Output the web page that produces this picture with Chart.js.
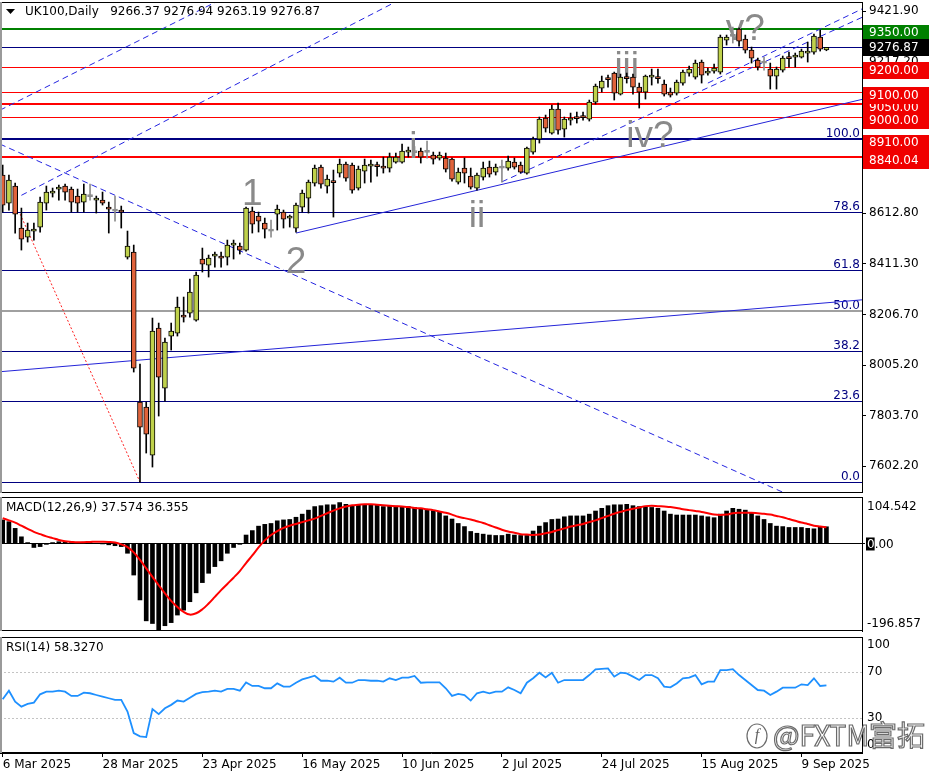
<!DOCTYPE html>
<html>
<head>
<meta charset="utf-8">
<title>UK100 Daily</title>
<script src="https://cdn.jsdelivr.net/npm/chart.js@4.4.1/dist/chart.umd.min.js"></script>
<style>
  html, body { margin: 0; padding: 0; background: #fff; }
  #wrap { position: relative; width: 936px; height: 780px; overflow: hidden; background: #fff; }
  canvas { position: absolute; left: 0; }
</style>
</head>
<body>
<div id="wrap">
  <canvas id="main" width="936" height="491" style="top:2px"></canvas>
  <canvas id="macd" width="936" height="138" style="top:495px"></canvas>
  <canvas id="rsi" width="936" height="146" style="top:634px"></canvas>
</div>
<script>
// daily candles, 6 Mar 2025 .. 15 Sep 2025
const open = [
  8766, 8654, 8722, 8554, 8518, 8542, 8558, 8654, 8694, 8710,
  8722, 8710, 8682, 8658, 8680, 8666, 8666, 8638, 8622, 8626,
  8438, 8458, 7858, 7838, 7646, 8154, 7914, 8122, 8134, 8206,
  8214, 8186, 8430, 8406, 8442, 8442, 8438, 8486, 8482, 8466,
  8622, 8602, 8574, 8542, 8610, 8618, 8594, 8554, 8638, 8674,
  8734, 8798, 8722, 8738, 8774, 8810, 8806, 8714, 8782, 8802,
  8802, 8802, 8794, 8818, 8818, 8858, 8856, 8862, 8857, 8846,
  8834, 8834, 8830, 8738, 8794, 8762, 8714, 8758, 8798, 8778,
  8794, 8794, 8818, 8806, 8774, 8858, 8910, 8994, 8934, 9030,
  8950, 8986, 8994, 8998, 8990, 9058, 9114, 9150, 9174, 9090,
  9154, 9158, 9118, 9098, 9158, 9154, 9130, 9098, 9094, 9134,
  9174, 9158, 9218, 9174, 9182, 9178, 9306, 9321, 9350, 9310,
  9266, 9226, 9214, 9190, 9162, 9186, 9234, 9238, 9238, 9254,
  9258, 9318, 9266.37
];
const high = [
  8806, 8766, 8734, 8634, 8574, 8574, 8678, 8722, 8714, 8726,
  8730, 8718, 8710, 8730, 8730, 8682, 8698, 8658, 8682, 8642,
  8542, 8486, 8010, 7858, 8194, 8174, 8114, 8174, 8278, 8278,
  8350, 8378, 8474, 8446, 8458, 8458, 8506, 8506, 8494, 8638,
  8638, 8618, 8594, 8586, 8646, 8626, 8606, 8654, 8706, 8746,
  8806, 8806, 8766, 8786, 8830, 8818, 8814, 8802, 8830, 8826,
  8818, 8838, 8854, 8854, 8890, 8878, 8880, 8874, 8902, 8858,
  8858, 8854, 8834, 8794, 8834, 8794, 8774, 8818, 8822, 8810,
  8826, 8842, 8834, 8818, 8878, 8918, 8998, 9006, 9046, 9054,
  8998, 9014, 9018, 9018, 9066, 9130, 9162, 9166, 9178, 9170,
  9174, 9170, 9134, 9166, 9190, 9190, 9146, 9114, 9146, 9186,
  9202, 9226, 9226, 9194, 9210, 9326, 9326, 9358, 9354, 9326,
  9278, 9234, 9238, 9214, 9198, 9242, 9258, 9254, 9270, 9298,
  9330, 9346, 9276.94
];
const low = [
  8618, 8626, 8534, 8466, 8498, 8506, 8538, 8626, 8678, 8666,
  8666, 8618, 8618, 8618, 8666, 8614, 8646, 8534, 8582, 8554,
  8430, 7978, 7538, 7654, 7598, 7802, 7862, 8066, 8122, 8178,
  8198, 8182, 8378, 8358, 8398, 8398, 8406, 8430, 8450, 8462,
  8534, 8538, 8514, 8518, 8546, 8554, 8558, 8538, 8618, 8614,
  8722, 8714, 8694, 8598, 8758, 8742, 8694, 8706, 8734, 8738,
  8762, 8774, 8778, 8814, 8814, 8838, 8838, 8814, 8834, 8810,
  8826, 8778, 8742, 8730, 8734, 8710, 8706, 8746, 8758, 8766,
  8738, 8786, 8790, 8774, 8770, 8850, 8894, 8938, 8930, 8930,
  8918, 8966, 8974, 8986, 8982, 9050, 9098, 9118, 9066, 9086,
  9134, 9090, 9034, 9070, 9126, 9134, 9082, 9078, 9086, 9126,
  9162, 9150, 9134, 9166, 9174, 9170, 9286, 9294, 9282, 9254,
  9214, 9186, 9186, 9110, 9110, 9178, 9198, 9198, 9234, 9218,
  9250, 9262, 9263.19
];
const close = [
  8646, 8746, 8610, 8510, 8546, 8550, 8658, 8698, 8698, 8714,
  8698, 8658, 8654, 8690, 8680, 8668, 8654, 8630, 8622, 8618,
  8482, 7994, 7758, 7730, 8142, 7958, 8098, 8142, 8238, 8198,
  8298, 8366, 8410, 8434, 8450, 8434, 8486, 8488, 8466, 8634,
  8570, 8582, 8550, 8542, 8630, 8590, 8596, 8646, 8694, 8738,
  8794, 8730, 8750, 8736, 8810, 8754, 8706, 8790, 8806, 8804,
  8800, 8794, 8838, 8838, 8862, 8860, 8856, 8838, 8857, 8830,
  8846, 8790, 8750, 8778, 8774, 8718, 8766, 8794, 8770, 8798,
  8794, 8822, 8798, 8778, 8874, 8910, 8990, 8954, 9030, 8946,
  8990, 8994, 8992, 8996, 9058, 9122, 9142, 9148, 9094, 9158,
  9152, 9118, 9098, 9162, 9160, 9152, 9090, 9086, 9138, 9178,
  9190, 9214, 9166, 9182, 9194, 9318, 9318, 9321, 9302, 9266,
  9234, 9198, 9214, 9162, 9190, 9234, 9232, 9242, 9262, 9258,
  9322, 9270, 9276.87
];

// MACD(12,26,9): histogram (main) and signal
const macdMain = [
  53, 49, 34, 15, 2, -9, -7, -2, 2, 4,
  4, 2, 1, 3, 2, 0, -1, -3, -5, -7,
  -22, -71, -127, -174, -180, -195, -185, -178, -161, -150,
  -131, -111, -88, -67, -52, -39, -22, -9, -2, 19,
  29, 39, 43, 45, 51, 53, 54, 59, 66, 75,
  83, 85, 87, 87, 92, 88, 85, 87, 88, 87,
  87, 83, 84, 84, 83, 83, 81, 79, 77, 74,
  70, 62, 55, 45, 38, 27, 23, 21, 19, 18,
  18, 21, 19, 18, 18, 28, 39, 47, 54, 55,
  60, 62, 62, 62, 66, 73, 79, 85, 87, 87,
  88, 85, 83, 83, 81, 79, 73, 66, 64, 64,
  64, 64, 62, 60, 58, 66, 73, 79, 77, 75,
  70, 62, 54, 45, 39, 38, 36, 36, 36, 34,
  33, 38, 37.574
];
const macdSignal = [
  57, 52, 47, 40, 33, 26, 21, 16, 12, 8,
  5, 3.5, 2.5, 3, 3.5, 4, 4, 3.5, 2, -2,
  -8, -20, -37, -56, -75, -94, -112, -129, -143, -154,
  -160, -157, -148, -135, -120, -105, -91, -77, -62, -44,
  -27, -9, 7, 19, 28, 35, 40, 44, 48, 52,
  56, 62, 68, 74, 79, 83, 86, 87, 88, 88,
  87, 86, 85, 84, 83, 82, 80, 79, 77, 75,
  72, 69, 65, 60, 57, 54, 50, 46, 41, 36,
  31, 27, 24, 21, 20, 19, 20, 23, 26, 30,
  34, 38, 41, 44, 48, 52, 57, 62, 67, 71,
  75, 78, 81, 84, 85, 84, 83, 82, 80, 77,
  75, 73, 71, 68, 65, 64, 65, 68, 69, 69,
  69, 68, 67, 65, 62, 59, 55, 51, 47, 44,
  40, 38, 36.355
];

// RSI(14)
const rsi = [
  46.3, 53.7, 44.3, 40, 42.3, 43.4, 50.6, 52.9, 52.9, 53.7,
  52.9, 49.2, 49.2, 52, 51.5, 50, 48.6, 47.2, 45.8, 45.8,
  35.7, 17.2, 14.3, 13.7, 37.8, 33.5, 38.6, 41.5, 45.2, 44.3,
  47.7, 50.9, 52.4, 52.9, 53.7, 52.9, 55.2, 55.2, 53.7, 60.9,
  57.8, 57.8, 55.8, 55.8, 60, 57.2, 57.2, 60.6, 63.5, 64.9,
  66.6, 62.3, 62.3, 61.5, 64.9, 60.6, 60.6, 62.9, 62.9, 62.3,
  62.3, 61.5, 64.4, 62.9, 64.9, 64.9, 66.4, 60.6, 60.9, 60.9,
  60.9, 55.8, 49.2, 50.9, 50, 45.2, 51.5, 52.9, 51.5, 52.9,
  52.9, 56.6, 54.3, 51.5, 60.6, 64.4, 69.2, 65.2, 69.2, 60.6,
  62.9, 62.9, 62.9, 62.9, 67.2, 72.1, 72.6, 72.9, 65.8, 69.2,
  68.6, 65.8, 62.9, 67.2, 67.2, 64.4, 57.2, 56.6, 60, 64.4,
  65, 67.2, 59.2, 61.5, 61.5, 71.5, 71.5, 72.3, 67.2, 62.9,
  58.6, 54.3, 53.7, 50, 52.9, 56.3, 56.3, 56.3, 59.2, 58.6,
  64.4, 57.8, 58.327
];

const holidays = ['2025-04-18', '2025-04-21', '2025-05-05', '2025-05-26', '2025-08-25'];
const tickLabels = ['6 Mar 2025', '28 Mar 2025', '23 Apr 2025', '16 May 2025', '10 Jun 2025',
  '2 Jul 2025', '24 Jul 2025', '15 Aug 2025', '9 Sep 2025'];
const priceTicks = [9421.90, 9217.20, 8612.80, 8411.30, 8206.70, 8005.20, 7803.70, 7602.20];

// drawn objects
const levels = [9350, 9276.87, 9200, 9100, 9050, 9000, 8910, 8840.04];
const fibLevels = [100, 78.6, 61.8, 50, 38.2, 23.6, 0];
const fibRange = [7538, 8910];
// [bar1, price1, bar2, price2]
const trendLines = [
  [22, 8026, 132, 8255],
  [47, 8534, 132, 9035],
  [0, 9031, 10, 9156],
  [3, 8685, 13, 8814],
  [0, 8885, 10, 8774],
  [80, 8739, 90, 8853],
  [113, 9134, 123, 9254],
  [2.8, 8610, 22, 7538]
];
const waveText = ['1', '2', 'i', 'ii', 'iii', 'iv?', 'v?'];
const waveBar = [40, 47, 65.8, 76, 100, 103.7, 119];
const wavePrice = [8646, 8374, 8834, 8558, 9154, 8878, 9306];

// ---- looks ----
const FONT = '"DejaVu Sans", sans-serif';
const look = {
  up: '#bfd14b', down: '#e0633b', doji: '#8c8c8c',
  levelColor: ['#008000', '#000080', '#ff0000', '#ff0000', '#ff0000', '#ff0000', '#000080', '#ff0000'],
  levelWidth: [2, 1, 1, 1, 2, 1, 2, 2],
  tagColor: ['#008000', '#000000', '#f00000', '#f00000', '#f00000', '#f00000', '#f00000', '#f00000'],
  tagOrder: [4, 0, 1, 2, 3, 5, 6, 7],
  trendDash: [[], [], [6, 4], [6, 4], [6, 4], [6, 4], [6, 4], [2, 2]],
  trendColor: ['#2424d8', '#2424d8', '#2424e0', '#2424e0', '#2424e0', '#2424e0', '#2424e0', '#ff2020'],
  trendReach: ['both', 'right', 'both', 'right', 'both', 'right', 'right', 'none']
};
const xRange = [-0.43, 137.7];

// trading days
const months = ['Jan', 'Feb', 'Mar', 'Apr', 'May', 'Jun', 'Jul', 'Aug', 'Sep', 'Oct', 'Nov', 'Dec'];
const dates = [];
const day = new Date(Date.UTC(2025, 2, 6));
while (dates.length < close.length) {
  const iso = day.toISOString().slice(0, 10);
  const wd = day.getUTCDay();
  if (wd !== 0 && wd !== 6 && !holidays.includes(iso)) {
    dates.push(day.getUTCDate() + ' ' + months[day.getUTCMonth()] + ' ' + day.getUTCFullYear());
  }
  day.setUTCDate(day.getUTCDate() + 1);
}
const tickIdx = tickLabels.map(t => dates.indexOf(t));

function candleColor(i) {
  if (open[i] === close[i]) return look.doji;
  return close[i] > open[i] ? look.up : look.down;
}

function hline(ctx, x1, x2, y, color, width, dash) {
  ctx.save();
  ctx.strokeStyle = color;
  ctx.lineWidth = width;
  ctx.setLineDash(dash || []);
  ctx.beginPath();
  const yy = width % 2 ? Math.round(y) + 0.5 : Math.round(y);
  ctx.moveTo(x1, yy);
  ctx.lineTo(x2, yy);
  ctx.stroke();
  ctx.restore();
}

const frame = {
  id: 'frame',
  afterDraw(chart) {
    const { ctx, chartArea: a } = chart;
    ctx.save();
    hline(ctx, a.left, a.right, a.top, '#000', 1);
    hline(ctx, a.left, a.right, a.bottom - 1, '#000', 1);
    ctx.strokeStyle = '#9a9a9a';
    ctx.lineWidth = 2;
    ctx.beginPath();
    ctx.moveTo(a.left + 1, a.top);
    ctx.lineTo(a.left + 1, a.bottom);
    ctx.stroke();
    ctx.restore();
  }
};

const overlay = {
  id: 'overlay',
  beforeDatasetsDraw(chart) {
    const { ctx, chartArea: a, scales: { x, y } } = chart;
    ctx.save();
    ctx.beginPath();
    ctx.rect(a.left, a.top, a.right - a.left, a.bottom - a.top);
    ctx.clip();

    // fibonacci levels
    ctx.font = '12px ' + FONT;
    ctx.textAlign = 'right';
    ctx.textBaseline = 'alphabetic';
    fibLevels.forEach(lv => {
      const v = fibRange[0] + (fibRange[1] - fibRange[0]) * lv / 100;
      const py = y.getPixelForValue(v);
      if (lv === 50) hline(ctx, a.left, a.right, py, '#a0a0a0', 2);
      else hline(ctx, a.left, a.right, py, '#000080', 1);
      ctx.fillStyle = '#000080';
      ctx.fillText(lv.toFixed(1), a.right - 2, py - 2);
    });

    // horizontal levels
    levels.forEach((v, k) => {
      hline(ctx, a.left, a.right, y.getPixelForValue(v), look.levelColor[k], look.levelWidth[k]);
    });

    // trend lines
    trendLines.forEach((t, k) => {
      const x1 = x.getPixelForValue(t[0]), y1 = y.getPixelForValue(t[1]);
      const x2 = x.getPixelForValue(t[2]), y2 = y.getPixelForValue(t[3]);
      const m = (y2 - y1) / (x2 - x1);
      const reach = look.trendReach[k];
      const xs = reach === 'both' ? a.left : x1;
      const xe = reach === 'none' ? x2 : a.right;
      ctx.save();
      ctx.strokeStyle = look.trendColor[k];
      ctx.lineWidth = 1;
      ctx.setLineDash(look.trendDash[k]);
      ctx.beginPath();
      ctx.moveTo(xs, y1 + (xs - x1) * m);
      ctx.lineTo(xe, y1 + (xe - x1) * m);
      ctx.stroke();
      ctx.restore();
    });

    // wave counts
    ctx.font = '37px "Liberation Sans", Arial, sans-serif';
    ctx.textAlign = 'center';
    ctx.textBaseline = 'alphabetic';
    ctx.fillStyle = '#8a8a8a';
    waveText.forEach((s, k) => {
      ctx.fillText(s, x.getPixelForValue(waveBar[k]), y.getPixelForValue(wavePrice[k]));
    });
    ctx.restore();
  },
  afterDraw(chart) {
    const { ctx, chartArea: a, scales: { y } } = chart;
    ctx.save();
    // price tags on the axis
    ctx.font = '12px ' + FONT;
    ctx.textBaseline = 'middle';
    ctx.textAlign = 'left';
    look.tagOrder.forEach(k => {
      const cy = y.getPixelForValue(levels[k]) + (k === 1 ? 0 : 3.5);
      ctx.fillStyle = look.tagColor[k];
      ctx.fillRect(a.right + 1, Math.round(cy - 8), 66, 17);
      ctx.fillStyle = '#fff';
      ctx.fillText(levels[k].toFixed(2), a.right + 7, cy + 0.5);
    });
    // title
    ctx.fillStyle = '#000';
    ctx.beginPath();
    ctx.moveTo(6, 7); ctx.lineTo(15, 7); ctx.lineTo(10.5, 12); ctx.closePath();
    ctx.fill();
    ctx.font = '12px ' + FONT;
    ctx.fillText('UK100,Daily   ' + [open, high, low, close].map(s => s[s.length - 1].toFixed(2)).join(' '), 25, 10);
    ctx.restore();
  }
};

const macdDeco = {
  id: 'macdDeco',
  beforeDatasetsDraw(chart) {
    const { ctx, chartArea: a, scales: { y } } = chart;
    hline(ctx, a.left, a.right + 3, y.getPixelForValue(0), '#000', 1);
  },
  afterDraw(chart) {
    const { ctx, chartArea: a, scales: { y } } = chart;
    ctx.save();
    ctx.font = '12px ' + FONT;
    ctx.textBaseline = 'middle';
    ctx.fillStyle = '#000';
    ctx.fillText('MACD(12,26,9) ' + macdMain[macdMain.length - 1].toFixed(3) + ' ' +
      macdSignal[macdSignal.length - 1].toFixed(3), 6, a.top + 11);
    const lx = a.right + 5;
    ctx.fillText('104.542', lx, a.top + 10);
    ctx.fillText('-196.857', lx, a.bottom - 7);
    const zy = y.getPixelForValue(0);
    const w0 = ctx.measureText('0').width;
    ctx.fillRect(lx - 1, zy - 6, w0 + 1, 13);
    ctx.fillStyle = '#fff';
    ctx.fillText('0', lx, zy + 1);
    ctx.fillStyle = '#000';
    ctx.fillText('.00', lx + w0, zy + 1);
    ctx.restore();
  }
};

const rsiDeco = {
  id: 'rsiDeco',
  beforeDatasetsDraw(chart) {
    const { ctx, chartArea: a, scales: { y } } = chart;
    [70, 30].forEach(v => hline(ctx, a.left, a.right, y.getPixelForValue(v), '#c4c4c4', 1, [2, 2]));
  },
  afterDraw(chart) {
    const { ctx, chartArea: a, scales: { y } } = chart;
    ctx.save();
    ctx.font = '12px ' + FONT;
    ctx.textBaseline = 'middle';
    ctx.fillStyle = '#000';
    ctx.fillText('RSI(14) ' + rsi[rsi.length - 1].toFixed(4), 6, a.top + 11);
    const lx = a.right + 5;
    ctx.fillText('100', lx, a.top + 8);
    ctx.fillText('70', lx, y.getPixelForValue(70));
    ctx.fillText('30', lx, y.getPixelForValue(30));
    ctx.fillText('0', lx, a.bottom - 8);
    // watermark
    ctx.lineWidth = 1.2;
    ctx.strokeStyle = 'rgba(70,70,70,0.8)';
    ctx.fillStyle = 'rgba(255,255,255,0.88)';
    ctx.beginPath();
    ctx.ellipse(757, 102, 10, 12, 0, 0, Math.PI * 2);
    ctx.fill();
    ctx.stroke();
    ctx.font = 'italic 16px "Liberation Serif", serif';
    ctx.textAlign = 'center';
    ctx.fillStyle = 'rgba(70,70,70,0.85)';
    ctx.fillText('f', 757, 102);
    ctx.font = '28px "Noto Sans CJK SC", sans-serif';
    ctx.textAlign = 'left';
    ctx.textBaseline = 'alphabetic';
    ctx.fillStyle = 'rgba(255,255,255,0.88)';
    ctx.fillText('@FXTM富拓', 773, 112);
    ctx.strokeText('@FXTM富拓', 773, 112);
    ctx.restore();
  }
};

function yAxis(extra) {
  return Object.assign({
    position: 'right',
    afterFit: s => { s.width = 74; s.paddingTop = 0; s.paddingBottom = 0; },
    ticks: { display: false },
    grid: { display: false },
    border: { display: true, color: '#000' }
  }, extra);
}
const hiddenX = { type: 'linear', min: xRange[0], max: xRange[1], display: false, offset: false, grid: { offset: false } };
const common = {
  responsive: false, animation: false, devicePixelRatio: 1, events: [],
  plugins: { legend: { display: false }, tooltip: { enabled: false } }
};

new Chart(document.getElementById('main'), {
  type: 'bar',
  data: {
    datasets: [
      {
        data: open.map((o, i) => ({ x: i, y: [o, close[i]] })),
        backgroundColor: open.map((o, i) => candleColor(i)),
        borderColor: open.map((o, i) => open[i] === close[i] ? look.doji : '#000'),
        borderWidth: 1, borderSkipped: false, barThickness: 5, minBarLength: 2,
        grouped: false, order: 0
      },
      {
        data: low.map((l, i) => ({ x: i, y: [l, high[i]] })),
        backgroundColor: open.map((o, i) => open[i] === close[i] ? look.doji : '#000'),
        borderWidth: 0, barThickness: 1, grouped: false, order: 1
      }
    ]
  },
  options: Object.assign({}, common, {
    layout: { padding: 0 },
    scales: {
      x: hiddenX,
      y: {
        position: 'right', min: 7494.2, max: 9458.2,
        afterBuildTicks: s => { s.ticks = priceTicks.map(v => ({ value: v })); },
        afterFit: s => { s.width = 74; s.paddingTop = 0; s.paddingBottom = 0; },
        ticks: { callback: v => v.toFixed(2), color: '#000', font: { family: FONT, size: 12 }, padding: 3 },
        grid: { drawOnChartArea: false, tickLength: 4, color: '#000' },
        border: { display: true, color: '#000' }
      }
    }
  }),
  plugins: [overlay, frame]
});

new Chart(document.getElementById('macd'), {
  type: 'bar',
  data: {
    datasets: [
      {
        type: 'line',
        data: macdSignal.map((v, i) => ({ x: i, y: v })),
        borderColor: '#ff0000', borderWidth: 2, pointRadius: 0, tension: 0.4, order: 0
      },
      {
        type: 'bar',
        data: macdMain.map((v, i) => ({ x: i, y: v })),
        backgroundColor: '#000', borderWidth: 0, barThickness: 4, grouped: false, order: 1
      }
    ]
  },
  options: Object.assign({}, common, {
    layout: { padding: { top: 2, bottom: 2 } },
    scales: { x: hiddenX, y: yAxis({ min: -196.857, max: 104.542 }) }
  }),
  plugins: [macdDeco, frame]
});

new Chart(document.getElementById('rsi'), {
  type: 'line',
  data: {
    datasets: [{
      data: rsi.map((v, i) => ({ x: i, y: v })),
      borderColor: '#1e90ff', borderWidth: 1.8, pointRadius: 0, tension: 0
    }]
  },
  options: Object.assign({}, common, {
    layout: { padding: { top: 3 } },
    scales: {
      x: {
        type: 'linear', min: xRange[0], max: xRange[1], offset: false,
        afterBuildTicks: s => { s.ticks = tickIdx.map(v => ({ value: v })); },
        afterFit: s => { s.height = 27; s.paddingLeft = 0; s.paddingRight = 0; },
        ticks: {
          autoSkip: false, maxRotation: 0, minRotation: 0, align: 'start', padding: 1,
          callback: v => dates[v], color: '#000', font: { family: FONT, size: 12 }
        },
        grid: { drawOnChartArea: false, tickLength: 4, color: '#000' },
        border: { display: true, color: '#000' }
      },
      y: yAxis({ min: 0, max: 100 })
    }
  }),
  plugins: [rsiDeco, frame]
});
</script>
</body>
</html>
